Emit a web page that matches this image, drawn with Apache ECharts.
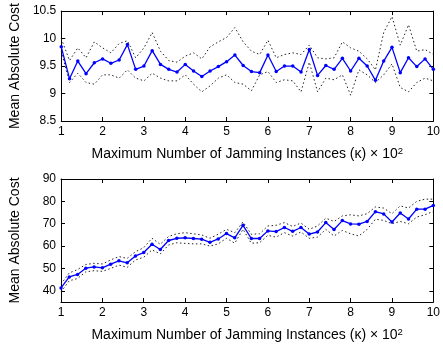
<!DOCTYPE html>
<html>
<head>
<meta charset="utf-8">
<script src="https://cdn.jsdelivr.net/npm/echarts@6/dist/echarts.min.js"></script>
<style>
  html, body { margin: 0; padding: 0; background: #fff; }
  #chart { width: 443px; height: 349px; }
</style>
</head>
<body>
<div id="chart"></div>
<script>
// x positions (max number of jamming instances, x10^2)
const kappa = [1.0, 1.2, 1.4, 1.6, 1.8, 2.0, 2.2, 2.4, 2.6, 2.8, 3.0, 3.2, 3.4, 3.6, 3.8, 4.0,
  4.2, 4.4, 4.6, 4.8, 5.0, 5.2, 5.4, 5.6, 5.8, 6.0, 6.2, 6.4, 6.6, 6.8, 7.0, 7.2, 7.4, 7.6,
  7.8, 8.0, 8.2, 8.4, 8.6, 8.8, 9.0, 9.2, 9.4, 9.6, 9.8, 10.0];

// top panel
const topMean = [9.85, 9.27, 9.59, 9.36, 9.56, 9.63, 9.55, 9.61, 9.89, 9.44, 9.50, 9.78, 9.53, 9.44, 9.39, 9.53,
  9.41, 9.31, 9.41, 9.49, 9.58, 9.70, 9.51, 9.40, 9.38, 9.70, 9.40, 9.50, 9.50, 9.39, 9.80, 9.33, 9.51, 9.44,
  9.64, 9.41, 9.64, 9.50, 9.24, 9.59, 9.84, 9.38, 9.65, 9.49, 9.63, 9.44];
const topUpper = [10.00, 9.60, 9.83, 9.65, 9.94, 9.83, 9.74, 9.91, 9.96, 9.65, 9.83, 10.11, 9.77, 9.60, 9.57, 9.68,
  9.74, 9.63, 9.85, 9.94, 10.02, 10.20, 9.94, 9.77, 9.71, 9.97, 9.65, 9.71, 9.74, 9.71, 9.88, 9.65, 9.63, 9.65,
  9.94, 9.83, 9.77, 9.63, 9.43, 10.11, 10.40, 9.88, 10.25, 9.77, 9.80, 9.71];
const topLower = [9.77, 9.20, 9.37, 9.20, 9.17, 9.34, 9.34, 9.28, 9.43, 9.28, 9.23, 9.37, 9.28, 9.23, 9.23, 9.34,
  9.17, 9.03, 9.14, 9.28, 9.34, 9.20, 9.17, 9.05, 9.34, 9.40, 9.20, 9.25, 9.23, 9.03, 9.57, 9.03, 9.28, 9.25,
  9.34, 8.97, 9.43, 9.34, 9.20, 9.34, 9.54, 9.11, 9.03, 9.20, 9.28, 9.23];
const topYTicks = [8.5, 9, 9.5, 10, 10.5];

// bottom panel
const botMean = [41.3, 46.2, 47.3, 50.1, 50.7, 50.3, 51.9, 53.4, 52.5, 55.6, 57.1, 60.8, 58.5, 62.5, 63.5, 63.7,
  63.4, 63.1, 61.7, 63.2, 65.6, 63.7, 69.3, 63.4, 63.4, 66.8, 66.5, 68.3, 66.6, 68.3, 65.4, 66.3, 70.5, 67.4,
  71.4, 69.9, 69.8, 71.0, 75.4, 74.4, 70.8, 74.8, 72.1, 76.5, 76.5, 78.2];
const botUpper = [43.0, 48.0, 49.5, 51.8, 52.3, 52.0, 53.8, 55.3, 54.5, 57.5, 59.3, 63.5, 60.8, 64.3, 65.5, 66.0,
  65.5, 65.0, 63.5, 65.3, 67.5, 66.0, 70.8, 65.3, 65.5, 69.0, 69.3, 70.5, 68.8, 70.3, 67.5, 69.0, 72.5, 71.0,
  73.5, 74.0, 73.5, 74.5, 77.5, 77.0, 74.5, 78.0, 77.0, 80.0, 81.0, 81.0];
const botLower = [39.5, 44.5, 45.5, 48.5, 49.0, 48.7, 50.0, 51.5, 50.5, 53.8, 55.0, 58.3, 56.5, 60.5, 61.5, 61.2,
  61.0, 61.0, 60.0, 61.0, 63.5, 61.3, 67.5, 61.3, 61.5, 64.8, 64.0, 66.0, 64.5, 66.3, 63.5, 64.0, 67.5, 64.5,
  67.0, 65.5, 64.5, 67.5, 72.0, 71.5, 70.0, 71.0, 70.0, 73.0, 74.0, 75.5];
const botYTicks = [40, 50, 60, 70, 80, 90];

const xTitle = 'Maximum Number of Jamming Instances (κ) × 10{sup|2}';
const yTitle = 'Mean Absolute Cost';

const FONT = 'Liberation Sans';
const pairs = ys => kappa.map((x, i) => [x, ys[i]]);

const grids = [
  { left: 54, right: 8, top: 4, height: 117 },
  { left: 54, right: 8, top: 179, height: 123 }
];

const xAxes = [];
const yAxes = [];
[0, 1].forEach(g => {
  xAxes.push({
    type: 'value', gridIndex: g, min: 1, max: 10, interval: 1,
    name: xTitle, nameLocation: 'middle', nameGap: 25,
    nameTextStyle: {
      fontFamily: FONT, fontSize: 14, color: '#000',
      rich: { sup: { fontFamily: FONT, fontSize: 9.5, color: '#000', verticalAlign: 'top', padding: [0, 0, 6, 0] } }
    },
    axisLine: { lineStyle: { color: '#000', width: 1 } },
    axisTick: { inside: true, length: 4, lineStyle: { color: '#000' } },
    axisLabel: { fontFamily: FONT, fontSize: 12, color: '#000', margin: 5 },
    splitLine: { show: false }
  });
  xAxes.push({
    type: 'value', gridIndex: g, position: 'top', min: 1, max: 10, interval: 1,
    axisLine: { lineStyle: { color: '#000', width: 1 } },
    axisTick: { inside: true, length: 4, lineStyle: { color: '#000' } },
    axisLabel: { show: false },
    splitLine: { show: false }
  });
});

const yRange = [
  { min: 8.5, max: 10.5, ticks: topYTicks },
  { min: 35, max: 90, ticks: botYTicks }
];
yRange.forEach((r, g) => {
  yAxes.push({
    type: 'value', gridIndex: g, min: r.min, max: r.max,
    name: yTitle, nameLocation: 'middle', nameGap: 39,
    nameTextStyle: { fontFamily: FONT, fontSize: 14, color: '#000' },
    axisLine: { show: true, lineStyle: { color: '#000', width: 1 } },
    axisTick: { inside: true, length: 4, customValues: r.ticks, lineStyle: { color: '#000' } },
    axisLabel: { fontFamily: FONT, fontSize: 12, color: '#000', margin: 5, customValues: r.ticks },
    splitLine: { show: false }
  });
  yAxes.push({
    type: 'value', gridIndex: g, position: 'right', min: r.min, max: r.max,
    axisLine: { show: true, lineStyle: { color: '#000', width: 1 } },
    axisTick: { inside: true, length: 4, customValues: r.ticks, lineStyle: { color: '#000' } },
    axisLabel: { show: false, customValues: r.ticks },
    splitLine: { show: false }
  });
});

const dotted = (ys, xi, yi) => ({
  type: 'line', xAxisIndex: xi, yAxisIndex: yi, data: pairs(ys),
  showSymbol: false, silent: true, z: 2,
  lineStyle: { color: '#222', width: 1, type: [1.5, 2.5] }
});
const meanLine = (ys, xi, yi) => ({
  type: 'line', xAxisIndex: xi, yAxisIndex: yi, data: pairs(ys),
  symbol: 'circle', symbolSize: 3.5, z: 3,
  itemStyle: { color: '#0000ff' },
  lineStyle: { color: '#0000ff', width: 1.3 }
});

const chart = echarts.init(document.getElementById('chart'), null, { renderer: 'canvas' });
chart.setOption({
  backgroundColor: '#fff',
  animation: false,
  grid: grids,
  xAxis: xAxes,
  yAxis: yAxes,
  series: [
    dotted(topUpper, 0, 0),
    dotted(topLower, 0, 0),
    meanLine(topMean, 0, 0),
    dotted(botUpper, 2, 2),
    dotted(botLower, 2, 2),
    meanLine(botMean, 2, 2)
  ]
});
</script>
</body>
</html>
